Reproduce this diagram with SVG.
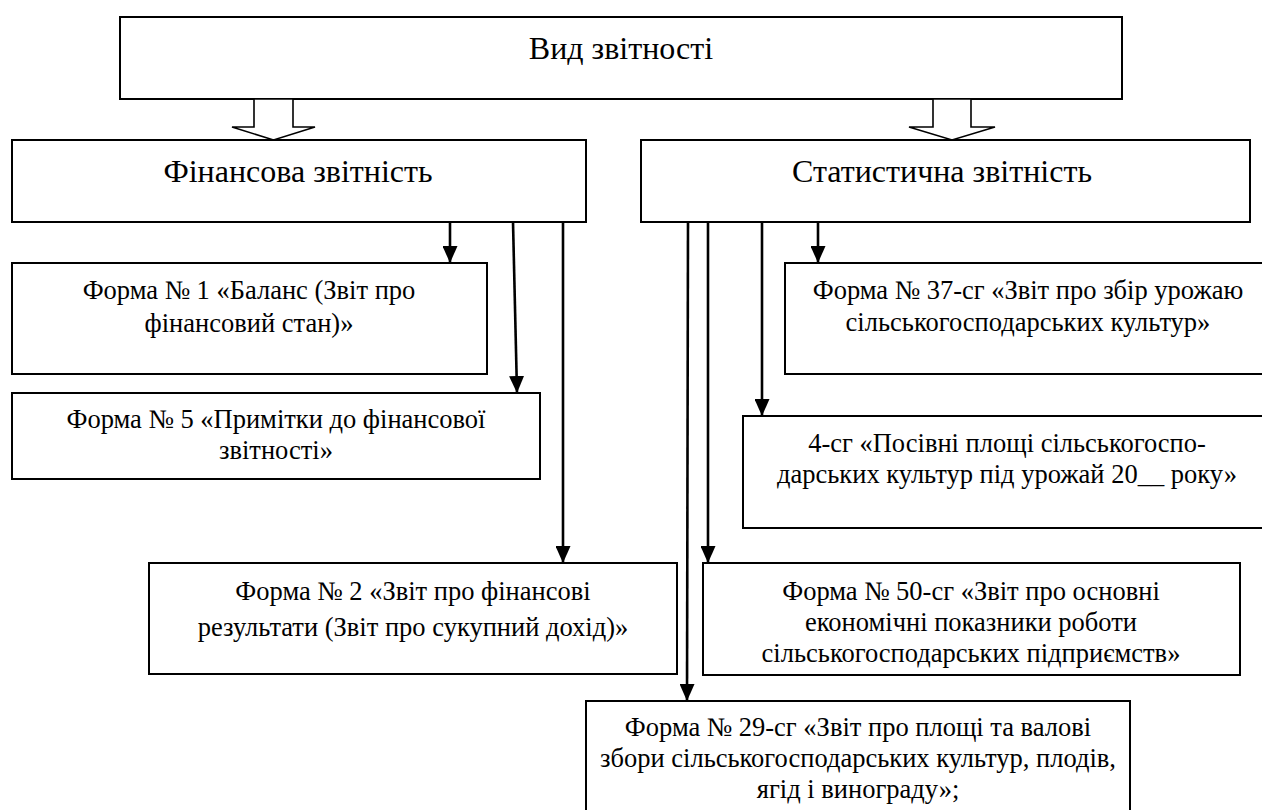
<svg xmlns="http://www.w3.org/2000/svg" width="1262" height="810" viewBox="0 0 1262 810">
<style>
.box{fill:#fff;stroke:#000;stroke-width:2}
.t{font-family:"Liberation Serif","Times New Roman",serif;fill:#000;text-anchor:middle}
.big{font-size:32px}
.sm{font-size:26.5px}
.ln{stroke:#000;stroke-width:2.6;fill:none;marker-end:url(#ah)}
.hol{fill:#fff;stroke:#000;stroke-width:1.6;stroke-linejoin:miter}
</style>
<defs>
<marker id="ah" markerUnits="userSpaceOnUse" markerWidth="17" markerHeight="15" refX="17" refY="7.5" orient="auto" viewBox="0 0 17 15">
<path d="M0,0 L17,7.5 L0,15 Z" fill="#000"/>
</marker>
</defs>
<rect width="1262" height="810" fill="#fff"/>
<g id="root">
<rect class="box" x="120" y="17" width="1002" height="82"/>
<text class="t big" x="621" y="59">Вид звітності</text>
</g>
<g id="connectors">
<polygon class="hol" points="254,99 293,99 293,127 315,127 273.5,140 232,127 254,127"/>
<polygon class="hol" points="933,99 971,99 971,127 995,127 952,140 909,127 933,127"/>
<line class="ln" x1="450" y1="222" x2="450" y2="263"/>
<line class="ln" x1="513" y1="222" x2="517" y2="393"/>
<line class="ln" x1="563" y1="222" x2="563" y2="563"/>
<line class="ln" x1="688" y1="222" x2="687" y2="701"/>
<line class="ln" x1="708" y1="222" x2="708" y2="563"/>
<line class="ln" x1="762" y1="222" x2="762" y2="416"/>
<line class="ln" x1="818" y1="222" x2="818" y2="263"/>
</g>
<g id="fin">
<rect class="box" x="12" y="140" width="574" height="82"/>
<text class="t big" x="298" y="182">Фінансова звітність</text>
</g>
<g id="stat">
<rect class="box" x="641" y="140" width="609" height="82"/>
<text class="t big" x="942" y="182">Статистична звітність</text>
</g>
<g id="f1">
<rect class="box" x="12" y="263" width="475" height="111"/>
<text class="t sm" x="249" y="299">Форма № 1 «Баланс (Звіт про</text>
<text class="t sm" x="249" y="332">фінансовий стан)»</text>
</g>
<g id="f5">
<rect class="box" x="12" y="393" width="528" height="86"/>
<text class="t sm" x="276" y="428">Форма № 5 «Примітки до фінансової</text>
<text class="t sm" x="276" y="459">звітності»</text>
</g>
<g id="f2">
<rect class="box" x="149" y="563" width="528" height="111"/>
<text class="t sm" x="413" y="600">Форма № 2 «Звіт про фінансові</text>
<text class="t sm" x="413" y="636">результати (Звіт про сукупний дохід)»</text>
</g>
<g id="f37">
<rect class="box" x="785" y="263" width="487" height="111"/>
<text class="t sm" x="1028" y="299">Форма № 37-сг «Звіт про збір урожаю</text>
<text class="t sm" x="1028" y="331">сільськогосподарських культур»</text>
</g>
<g id="f4">
<rect class="box" x="743" y="416" width="529" height="112"/>
<text class="t sm" x="1007" y="452">4-сг «Посівні площі сільськогоспо-</text>
<text class="t sm" x="1007" y="483">дарських культур під урожай 20__ року»</text>
</g>
<g id="f50">
<rect class="box" x="703" y="563" width="537" height="112"/>
<text class="t sm" x="971" y="600">Форма № 50-сг «Звіт про основні</text>
<text class="t sm" x="971" y="631">економічні показники роботи</text>
<text class="t sm" x="971" y="662">сільськогосподарських підприємств»</text>
</g>
<g id="f29">
<rect class="box" x="586" y="701" width="544" height="118"/>
<text class="t sm" x="858" y="736">Форма № 29-сг «Звіт про площі та валові</text>
<text class="t sm" x="858" y="767">збори сільськогосподарських культур, плодів,</text>
<text class="t sm" x="858" y="798">ягід і винограду»;</text>
</g>
</svg>
